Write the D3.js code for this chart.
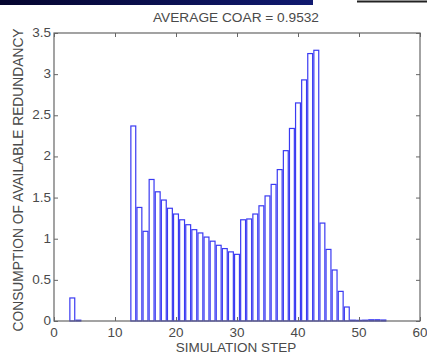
<!doctype html>
<html>
<head>
<meta charset="utf-8">
<title>Average COAR</title>
<style>
  body { margin: 0; background: #fff; }
  text { font-family: "Liberation Sans", Arial, sans-serif; fill: #4a4a4a; }
  .bar { fill: #fff; stroke: #3a3af2; stroke-width: 1.2; }
  .frame { fill: none; stroke: #666; stroke-width: 1.2; }
  .tick line { stroke: #666; }
</style>
</head>
<body>
<div id="chart"></div>
<script src="https://cdnjs.cloudflare.com/ajax/libs/d3/7.8.5/d3.min.js"></script>
<script>
var steps = [3, 4, 13, 14, 15, 16, 17, 18, 19, 20, 21, 22, 23, 24, 25, 26, 27, 28, 29, 30,
             31, 32, 33, 34, 35, 36, 37, 38, 39, 40, 41, 42, 43, 44, 45, 46, 47, 48,
             49, 50, 51, 52, 53, 54];
var values = [0.28, 0.01, 2.37, 1.38, 1.09, 1.72, 1.57, 1.47, 1.37, 1.30, 1.23, 1.17, 1.11, 1.07, 1.02, 0.97, 0.92, 0.88, 0.84, 0.81,
              1.23, 1.24, 1.30, 1.40, 1.52, 1.66, 1.84, 2.07, 2.34, 2.65, 2.93, 3.25, 3.29, 1.19, 0.87, 0.62, 0.36, 0.17,
              0.01, 0.008, 0.01, 0.015, 0.015, 0.012];
var xTicks = [0, 10, 20, 30, 40, 50, 60];
var yTicks = [0, 0.5, 1, 1.5, 2, 2.5, 3, 3.5];
var title = "AVERAGE COAR = 0.9532";

var W = 427, H = 354;
var plotLeft = 54, plotRight = 420, plotTop = 33, plotBottom = 321;

var svg = d3.select("#chart").append("svg")
    .attr("width", W)
    .attr("height", H);

// banner leftovers at the top of the slide
var grad = svg.append("defs").append("linearGradient").attr("id", "band");
grad.append("stop").attr("offset", "0%").attr("stop-color", "#05052e");
grad.append("stop").attr("offset", "100%").attr("stop-color", "#101a70");
svg.append("rect").attr("x", 0).attr("y", 0).attr("width", 313).attr("height", 5)
    .attr("fill", "url(#band)");
svg.append("line").attr("x1", 357).attr("x2", 427).attr("y1", 1.5).attr("y2", 1.5)
    .attr("stroke", "#222").attr("stroke-width", 2);

var x = d3.scaleLinear().domain([0, 60]).range([plotLeft, plotRight]);
var y = d3.scaleLinear().domain([0, 3.5]).range([plotBottom, plotTop]);

var barW = 0.8;

svg.selectAll("rect.bar")
    .data(steps)
  .enter().append("rect")
    .attr("class", "bar")
    .attr("x", function(d) { return x(d - barW / 2); })
    .attr("width", function(d) { return x(d + barW / 2) - x(d - barW / 2); })
    .attr("y", function(d, i) { return y(values[i]); })
    .attr("height", function(d, i) { return y(0) - y(values[i]); });

// axes with inward ticks, matlab style
svg.append("g")
    .attr("transform", "translate(0," + plotBottom + ")")
    .call(d3.axisTop(x).tickValues(xTicks).tickSize(4).tickFormat(""))
    .call(function(g) { g.select(".domain").remove(); });
svg.append("g")
    .attr("transform", "translate(0," + plotTop + ")")
    .call(d3.axisBottom(x).tickValues(xTicks).tickSize(4).tickFormat(""))
    .call(function(g) { g.select(".domain").remove(); });
svg.append("g")
    .attr("transform", "translate(" + plotLeft + ",0)")
    .call(d3.axisRight(y).tickValues(yTicks).tickSize(4).tickFormat(""))
    .call(function(g) { g.select(".domain").remove(); });
svg.append("g")
    .attr("transform", "translate(" + plotRight + ",0)")
    .call(d3.axisLeft(y).tickValues(yTicks).tickSize(4).tickFormat(""))
    .call(function(g) { g.select(".domain").remove(); });

svg.append("rect").attr("class", "frame")
    .attr("x", plotLeft).attr("y", plotTop)
    .attr("width", plotRight - plotLeft).attr("height", plotBottom - plotTop);

// tick labels
svg.selectAll("text.xt")
    .data(xTicks)
  .enter().append("text")
    .attr("class", "xt")
    .attr("x", function(d) { return x(d); })
    .attr("y", 337)
    .attr("text-anchor", "middle")
    .style("font-size", "13.5px")
    .text(function(d) { return d; });

svg.selectAll("text.yt")
    .data(yTicks)
  .enter().append("text")
    .attr("class", "yt")
    .attr("x", plotLeft - 3)
    .attr("y", function(d) { return y(d) + 4; })
    .attr("text-anchor", "end")
    .style("font-size", "13.5px")
    .text(function(d) { return d; });

svg.append("text")
    .attr("x", 236).attr("y", 22)
    .attr("text-anchor", "middle")
    .style("font-size", "13.7px")
    .text(title);

svg.append("text")
    .attr("x", 236).attr("y", 352)
    .attr("text-anchor", "middle")
    .style("font-size", "13.5px")
    .text("SIMULATION STEP");

svg.append("text")
    .attr("transform", "translate(23," + ((plotTop + plotBottom) / 2 + 3) + ") rotate(-90)")
    .attr("text-anchor", "middle")
    .style("font-size", "13.8px")
    .text("CONSUMPTION OF AVAILABLE REDUNDANCY");
</script>
</body>
</html>
